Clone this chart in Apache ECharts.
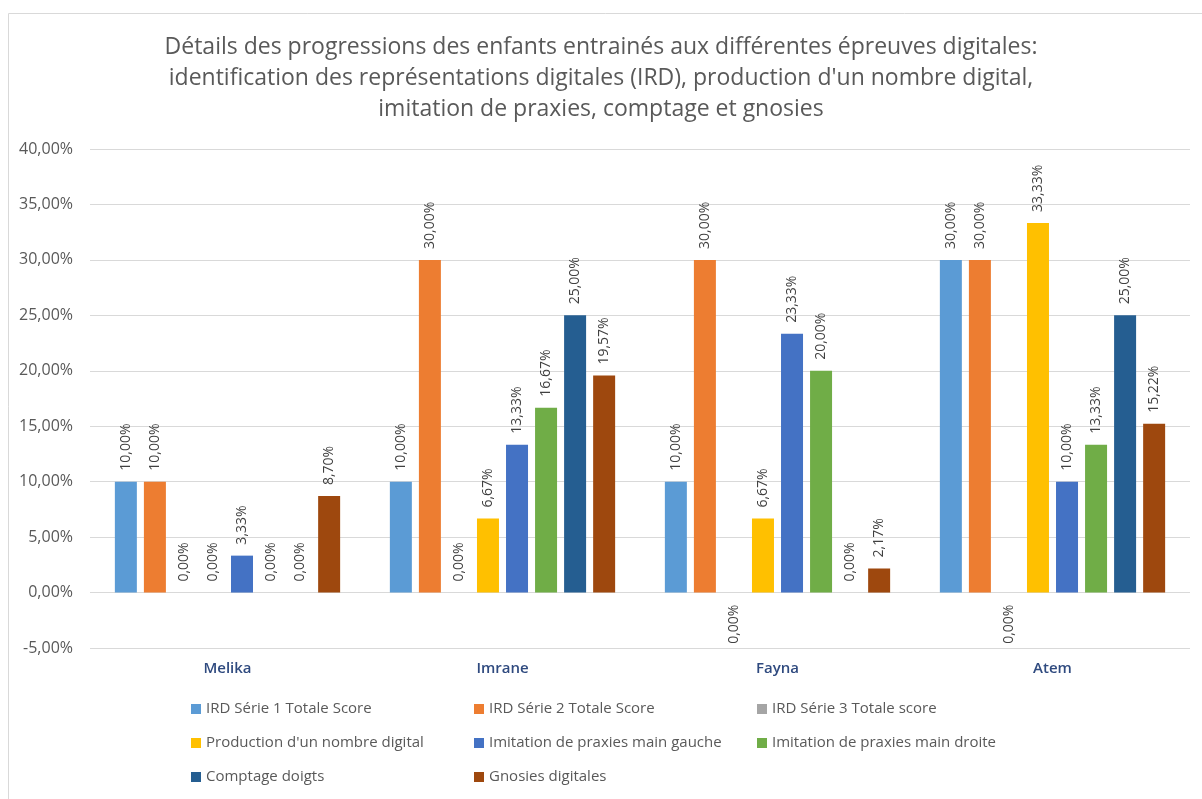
<!DOCTYPE html>
<html>
<head>
<meta charset="utf-8">
<script src="https://cdn.jsdelivr.net/npm/echarts@6/dist/echarts.min.js"></script>
<style>
  html, body { margin: 0; padding: 0; background: #fff; }
  #chart { width: 1202px; height: 799px; }
</style>
</head>
<body>
<div id="chart"></div>
<script>
const categories = ['Melika', 'Imrane', 'Fayna', 'Atem'];

const seriesNames = [
  'IRD Série 1 Totale Score',
  'IRD Série 2 Totale Score',
  'IRD Série 3 Totale score',
  "Production d'un nombre digital",
  'Imitation de praxies main gauche',
  'Imitation de praxies main droite',
  'Comptage doigts',
  'Gnosies digitales'
];

const seriesColors = ['#5b9bd5', '#ed7d31', '#a5a5a5', '#ffc000', '#4472c4', '#70ad47', '#255e91', '#9e480e'];

// values in %, one array per series (Melika, Imrane, Fayna, Atem)
const ird1 = [10, 10, 10, 30];
const ird2 = [10, 30, 30, 30];
const ird3 = [0, 0, -0.001, -0.001];   // shown as 0,00% under the axis for Fayna / Atem
const production = [0, 6.67, 6.67, 33.33];
const praxiesGauche = [3.33, 13.33, 23.33, 10];
const praxiesDroite = [0, 16.67, 20, 13.33];
const comptage = [0, 25, 0, 25];
const gnosies = [8.70, 19.57, 2.17, 15.22];

const seriesValues = [ird1, ird2, ird3, production, praxiesGauche, praxiesDroite, comptage, gnosies];

const FONT = '"Open Sans", "Noto Sans", sans-serif';

const fmt = (v) => {
  let n = Math.abs(v) < 0.005 ? 0 : v;
  return n.toFixed(2).replace('.', ',') + '%';
};

const chart = echarts.init(document.getElementById('chart'));

const series = seriesNames.map((name, i) => ({
  name: name,
  type: 'bar',
  barWidth: 22,
  barGap: '32%',
  itemStyle: { color: seriesColors[i] },
  label: {
    show: true,
    position: 'top',
    rotate: 90,
    align: 'left',
    verticalAlign: 'middle',
    distance: 11,
    fontFamily: FONT,
    fontSize: 14,
    color: '#404040',
    formatter: (p) => fmt(p.value)
  },
  data: seriesValues[i].map(v => v < 0
    ? { value: v, label: { position: 'bottom', align: 'right', distance: 12 } }
    : v)
}));

const option = {
  animation: false,
  title: {
    text: 'Détails des progressions des enfants entrainés aux différentes épreuves digitales:\n' +
          "identification des représentations digitales (IRD), production d'un nombre digital,\n" +
          'imitation de praxies, comptage et gnosies',
    left: 'center',
    top: 27,
    textStyle: {
      fontFamily: FONT,
      fontSize: 23,
      fontWeight: 'normal',
      color: '#595959',
      lineHeight: 31
    }
  },
  graphic: [{
    type: 'rect',
    shape: { x: 8.5, y: 13.5, width: 1300, height: 900 },
    style: { fill: 'none', stroke: '#d9d9d9', lineWidth: 1 },
    silent: true
  }],
  legend: {
    left: 186,
    top: 687,
    width: 860,
    itemGap: 0,
    itemWidth: 10,
    itemHeight: 10,
    icon: 'rect',
    textStyle: {
      fontFamily: FONT,
      fontSize: 15,
      color: '#595959',
      width: 268,
      lineHeight: 34
    },
    data: seriesNames
  },
  grid: {
    left: 90,
    right: 12,
    top: 149,
    bottom: 151
  },
  xAxis: {
    type: 'category',
    data: categories,
    axisLine: { show: false, onZero: false },
    axisTick: { show: false },
    axisLabel: {
      margin: 13,
      fontFamily: FONT,
      fontSize: 15,
      fontWeight: 600,
      color: '#2f4a7f'
    }
  },
  yAxis: {
    type: 'value',
    min: -5,
    max: 40,
    interval: 5,
    axisLine: { show: false },
    axisTick: { show: false },
    splitLine: { lineStyle: { color: '#d9d9d9', width: 1 } },
    axisLabel: {
      margin: 17,
      fontFamily: FONT,
      fontSize: 16,
      color: '#595959',
      formatter: (v) => fmt(v)
    }
  },
  series: series
};

chart.setOption(option);
</script>
</body>
</html>
